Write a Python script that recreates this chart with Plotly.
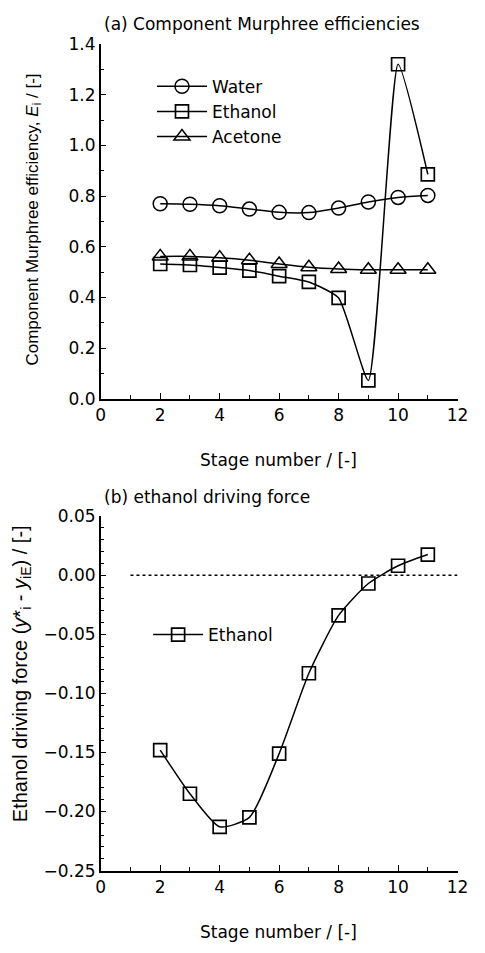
import plotly.graph_objects as go

# ---- data ----
stages = [2, 3, 4, 5, 6, 7, 8, 9, 10, 11]
water_eff = [0.770, 0.768, 0.762, 0.749, 0.736, 0.735, 0.753, 0.777, 0.795, 0.803]
ethanol_eff = [0.532, 0.528, 0.518, 0.506, 0.484, 0.461, 0.398, 0.072, 1.321, 0.886]
acetone_eff = [0.562, 0.562, 0.557, 0.547, 0.532, 0.519, 0.512, 0.509, 0.509, 0.509]
ethanol_force = [-0.148, -0.185, -0.213, -0.205, -0.151, -0.083, -0.034, -0.007, 0.008, 0.0175]

x_ticks = [0, 2, 4, 6, 8, 10, 12]
zero_line_x = [1, 12]

W, H = 485, 953
FONT = "DejaVu Sans, Arial, sans-serif"
VFONT = "Liberation Sans, Arial, sans-serif"
FS = 17


def px(x):
    return x / W


def py(y):
    return 1 - y / H


fig = go.Figure()

fig.add_trace(go.Scatter(x=stages, y=water_eff, name="Water", mode="lines+markers",
                         line=dict(color="black", width=1.5, shape="spline", smoothing=0.8),
                         marker=dict(symbol="circle-open", size=14, color="black", line=dict(width=1.5)),
                         xaxis="x", yaxis="y", legend="legend", legendgroup="w"))
fig.add_trace(go.Scatter(x=stages, y=ethanol_eff, name="Ethanol", mode="lines+markers",
                         line=dict(color="black", width=1.5, shape="spline", smoothing=0.5),
                         marker=dict(symbol="square-open", size=13, color="black", line=dict(width=1.7)),
                         xaxis="x", yaxis="y", legend="legend", legendgroup="e"))
fig.add_trace(go.Scatter(x=stages, y=acetone_eff, name="Acetone", mode="lines+markers",
                         line=dict(color="black", width=1.5, shape="spline", smoothing=0.8),
                         marker=dict(symbol="triangle-up-open", size=14, color="black", line=dict(width=1.5)),
                         xaxis="x", yaxis="y", legend="legend", legendgroup="a"))

fig.add_trace(go.Scatter(x=stages, y=ethanol_force, name="Ethanol", mode="lines+markers",
                         line=dict(color="black", width=1.5, shape="spline", smoothing=0.6),
                         marker=dict(symbol="square-open", size=13, color="black", line=dict(width=1.7)),
                         xaxis="x2", yaxis="y2", legend="legend2"))

fig.add_trace(go.Scatter(x=zero_line_x, y=[0, 0], mode="lines", showlegend=False,
                         line=dict(color="black", width=1.4, dash="dot"),
                         xaxis="x2", yaxis="y2", hoverinfo="skip"))

xdom = [px(99), px(468)]
common_x = dict(range=[0, 12], tickvals=x_ticks, ticks="inside", ticklen=6, tickwidth=1.3,
                tickcolor="black", showline=True, linecolor="black", linewidth=1.5,
                showgrid=False, zeroline=False, mirror=False,
                minor=dict(dtick=1, ticks="inside", ticklen=4, tickcolor="black", showgrid=False),
                tickfont=dict(size=FS, color="black"), domain=xdom)

fig.update_layout(
    width=W, height=H,
    margin=dict(l=0, r=0, t=0, b=0),
    paper_bgcolor="white", plot_bgcolor="white",
    font=dict(family=FONT, size=FS, color="black"),
    xaxis=dict(anchor="y", **common_x),
    xaxis2=dict(anchor="y2", **common_x),
    yaxis=dict(anchor="x", domain=[py(397), py(35)], range=[0, 1.4], dtick=0.2, tickformat=".1f",
               ticks="inside", ticklen=6, tickwidth=1.3, tickcolor="black",
               showline=True, linecolor="black", linewidth=1.5, showgrid=False, zeroline=False,
               minor=dict(dtick=0.1, ticks="inside", ticklen=4, tickcolor="black", showgrid=False),
               tickfont=dict(size=FS, color="black")),
    yaxis2=dict(anchor="x2", domain=[py(879), py(517)], range=[-0.25, 0.05], dtick=0.05, tickformat=".2f",
                ticks="inside", ticklen=6, tickwidth=1.3, tickcolor="black",
                showline=True, linecolor="black", linewidth=1.5, showgrid=False, zeroline=False,
                minor=dict(dtick=0.01, ticks="inside", ticklen=4, tickcolor="black", showgrid=False),
                tickfont=dict(size=FS, color="black")),
    legend=dict(x=px(152), y=py(60), xanchor="left", yanchor="top", bgcolor="rgba(0,0,0,0)",
                font=dict(size=FS), tracegroupgap=0, itemwidth=50),
    legend2=dict(x=px(148), y=py(620), xanchor="left", yanchor="top", bgcolor="rgba(0,0,0,0)",
                 font=dict(size=FS), itemwidth=50),
    showlegend=True,
)

annots = [
    dict(text="(a) Component Murphree efficiencies", x=px(100), y=py(14), xanchor="left", yanchor="middle"),
    dict(text="(b) ethanol driving force", x=px(100), y=py(497), xanchor="left", yanchor="middle"),
    dict(text="Stage number / [-]", x=px(283), y=py(460), xanchor="center", yanchor="middle"),
    dict(text="Stage number / [-]", x=px(283), y=py(942), xanchor="center", yanchor="middle"),
]
for a in annots:
    fig.add_annotation(xref="paper", yref="paper", showarrow=False, font=dict(size=FS, color="black"), **a)

vannots = [
    dict(text="Component Murphree efficiency, <i>E</i><sub>i</sub> / [-]", x=px(29), y=py(214), size=17),
    dict(text="Ethanol driving force (<i>y</i>*<sub>i</sub> - <i>y</i><sub>iE</sub>) / [-]", x=px(17), y=py(678), size=20),
]
for a in vannots:
    sz = a.pop("size")
    fig.add_annotation(xref="paper", yref="paper", showarrow=False, textangle=-90,
                       xanchor="center", yanchor="middle",
                       font=dict(size=sz, color="black", family=VFONT), **a)

fig.write_html("out.html")
